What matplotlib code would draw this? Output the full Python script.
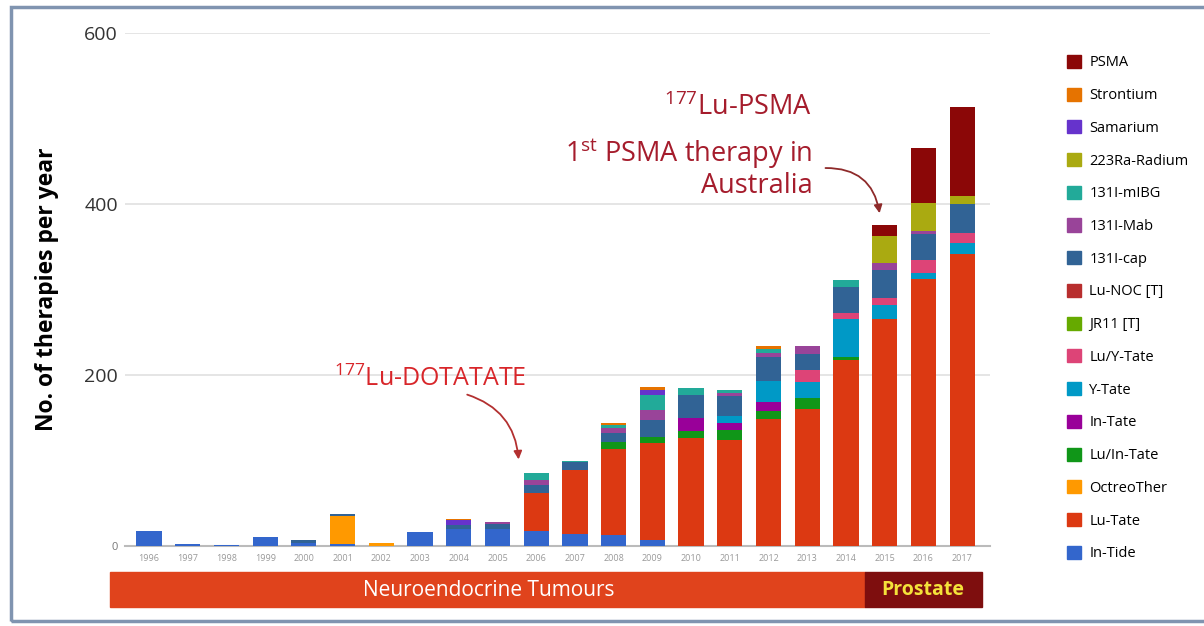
import matplotlib
matplotlib.use("Agg")
import matplotlib.pyplot as plt
import matplotlib.patches as mpatches
import numpy as np

plt.rcParams['font.family'] = ['Open Sans', 'DejaVu Sans']
plt.rcParams['mathtext.default'] = 'regular'

years = list(range(1996, 2018))

# values per series, one per year 1996..2017
in_tide    = [17, 2, 1, 10, 3, 2, 0, 16, 20, 20, 18, 14, 13, 7, 0, 0, 0, 0, 0, 0, 0, 0]
lu_tate    = [0, 0, 0, 0, 0, 0, 0, 0, 0, 0, 44, 75, 101, 113, 126, 124, 148, 160, 218, 265, 312, 342]
octreother = [0, 0, 0, 0, 0, 33, 3, 0, 0, 0, 0, 0, 0, 0, 0, 0, 0, 0, 0, 0, 0, 0]
lu_in_tate = [0, 0, 0, 0, 0, 0, 0, 0, 0, 0, 0, 0, 8, 8, 9, 12, 10, 13, 3, 0, 0, 0]
in_tate    = [0, 0, 0, 0, 0, 0, 0, 0, 0, 0, 0, 0, 0, 0, 15, 8, 11, 0, 0, 0, 0, 0]
y_tate     = [0, 0, 0, 0, 0, 0, 0, 0, 0, 0, 0, 0, 0, 0, 0, 8, 24, 19, 45, 17, 7, 12]
lu_y_tate  = [0, 0, 0, 0, 0, 0, 0, 0, 0, 0, 0, 0, 0, 0, 0, 0, 0, 14, 6, 8, 16, 12]
jr11       = [0] * 22
lu_noc     = [0] * 22
i131_cap   = [0, 0, 0, 0, 4, 2, 0, 0, 5, 6, 9, 9, 10, 19, 27, 23, 28, 19, 31, 33, 30, 34]
i131_mab   = [0, 0, 0, 0, 0, 0, 0, 0, 0, 2, 6, 0, 6, 12, 0, 4, 5, 9, 0, 8, 3, 0]
i131_mibg  = [0, 0, 0, 0, 0, 0, 0, 0, 0, 0, 8, 2, 4, 18, 8, 3, 4, 0, 8, 0, 0, 0]
radium     = [0, 0, 0, 0, 0, 0, 0, 0, 0, 0, 0, 0, 0, 0, 0, 0, 0, 0, 0, 31, 33, 9]
samarium   = [0, 0, 0, 0, 0, 0, 0, 0, 5, 0, 0, 0, 0, 5, 0, 0, 0, 0, 0, 0, 0, 0]
strontium  = [0, 0, 0, 0, 0, 0, 0, 0, 2, 0, 0, 0, 2, 4, 0, 0, 4, 0, 0, 0, 0, 0]
psma       = [0, 0, 0, 0, 0, 0, 0, 0, 0, 0, 0, 0, 0, 0, 0, 0, 0, 0, 0, 13, 64, 105]

series = [
    ("In-Tide", in_tide, "#3366cc"),
    ("Lu-Tate", lu_tate, "#dc3912"),
    ("OctreoTher", octreother, "#ff9900"),
    ("Lu/In-Tate", lu_in_tate, "#109618"),
    ("In-Tate", in_tate, "#990099"),
    ("Y-Tate", y_tate, "#0099c6"),
    ("Lu/Y-Tate", lu_y_tate, "#dd4477"),
    ("JR11 [T]", jr11, "#66aa00"),
    ("Lu-NOC [T]", lu_noc, "#b82e2e"),
    ("131I-cap", i131_cap, "#316395"),
    ("131I-Mab", i131_mab, "#994499"),
    ("131I-mIBG", i131_mibg, "#22aa99"),
    ("223Ra-Radium", radium, "#aaaa11"),
    ("Samarium", samarium, "#6633cc"),
    ("Strontium", strontium, "#e67300"),
    ("PSMA", psma, "#8b0707"),
]

W, H = 1204, 626
fig = plt.figure(figsize=(W / 100, H / 100), dpi=100)
ax = fig.add_axes([125 / W, 1 - 546 / H, (990 - 125) / W, (546 - 33) / H])

x = np.array(years)
bottom = np.zeros(len(years))
handles = []
for name, vals, col in series:
    v = np.array(vals, dtype=float)
    ax.bar(x, v, width=0.65, bottom=bottom, color=col, linewidth=0, zorder=3)
    bottom += v
    handles.append(mpatches.Patch(color=col, label=name))

ax.set_xlim(1996 - 0.62, 2017 + 0.72)
ax.set_ylim(0, 600)
ax.set_yticks([0, 200, 400, 600])
ax.set_yticklabels(["0", "200", "400", "600"], fontsize=14, color="#333333")
ax.get_yticklabels()[0].set_fontsize(8)
ax.get_yticklabels()[0].set_color("#777777")
ax.set_xticks(years)
ax.set_xticklabels([str(y) for y in years], fontsize=6.5, color="#999999")
ax.tick_params(length=0, pad=6)
ax.tick_params(axis="y", pad=5)
ax.grid(axis="y", color="#e0e0e0", linewidth=1.2, zorder=0)
for s in ["top", "right", "left"]:
    ax.spines[s].set_visible(False)
ax.spines["bottom"].set_color("#bbbbbb")
ax.spines["bottom"].set_linewidth(1.5)
ax.set_ylabel("No. of therapies per year", fontsize=16.5, fontweight="bold", labelpad=18)

# legend (top entry = PSMA)
fig.legend(handles=handles[::-1], loc="upper left", bbox_to_anchor=(1061 / W, 1 - 49 / H),
           frameon=False, fontsize=10.5, handlelength=1.0, handleheight=1.0,
           labelspacing=1.18, handletextpad=0.55, borderaxespad=0)

# annotations
ax.text(2003.26, 196, r"$^{177}$Lu-DOTATATE", fontsize=18, color="#d8262a", ha="center", va="center")
ax.annotate("", xy=(2005.55, 98), xytext=(2004.15, 178),
            arrowprops=dict(arrowstyle="-|>", color="#b33030", lw=1.3,
                            connectionstyle="arc3,rad=-0.35", mutation_scale=12))
ax.text(2013.13, 513, r"$^{177}$Lu-PSMA", fontsize=19.5, color="#a51c2c", ha="right", va="center")
ax.text(2013.13, 459, r"1$^{st}$ PSMA therapy in", fontsize=19.5, color="#a51c2c", ha="right", va="center")
ax.text(2013.13, 421, "Australia", fontsize=19.5, color="#a51c2c", ha="right", va="center")
ax.annotate("", xy=(2014.88, 386), xytext=(2013.4, 442),
            arrowprops=dict(arrowstyle="-|>", color="#8e2a2a", lw=1.3,
                            connectionstyle="arc3,rad=-0.45", mutation_scale=12))

# bottom category bands
fig.patches.append(mpatches.Rectangle((110 / W, 1 - 607 / H), (865 - 110) / W, 35 / H,
                                      transform=fig.transFigure, color="#e0431c", zorder=1))
fig.patches.append(mpatches.Rectangle((865 / W, 1 - 607 / H), (982 - 865) / W, 35 / H,
                                      transform=fig.transFigure, color="#7e0e0e", zorder=1))
fig.text(489 / W, 1 - 590 / H, "Neuroendocrine Tumours", color="white", fontsize=15,
         ha="center", va="center")
fig.text(923 / W, 1 - 590 / H, "Prostate", color="#f4e23a", fontsize=14, fontweight="bold",
         ha="center", va="center")

# outer frame
fig.patches.append(mpatches.Rectangle((11 / W, 1 - 621 / H), 1.2, (621 - 7) / H,
                                      transform=fig.transFigure, fill=False,
                                      edgecolor="#8094b0", linewidth=2.5))

fig.savefig("out.png", dpi=100)
